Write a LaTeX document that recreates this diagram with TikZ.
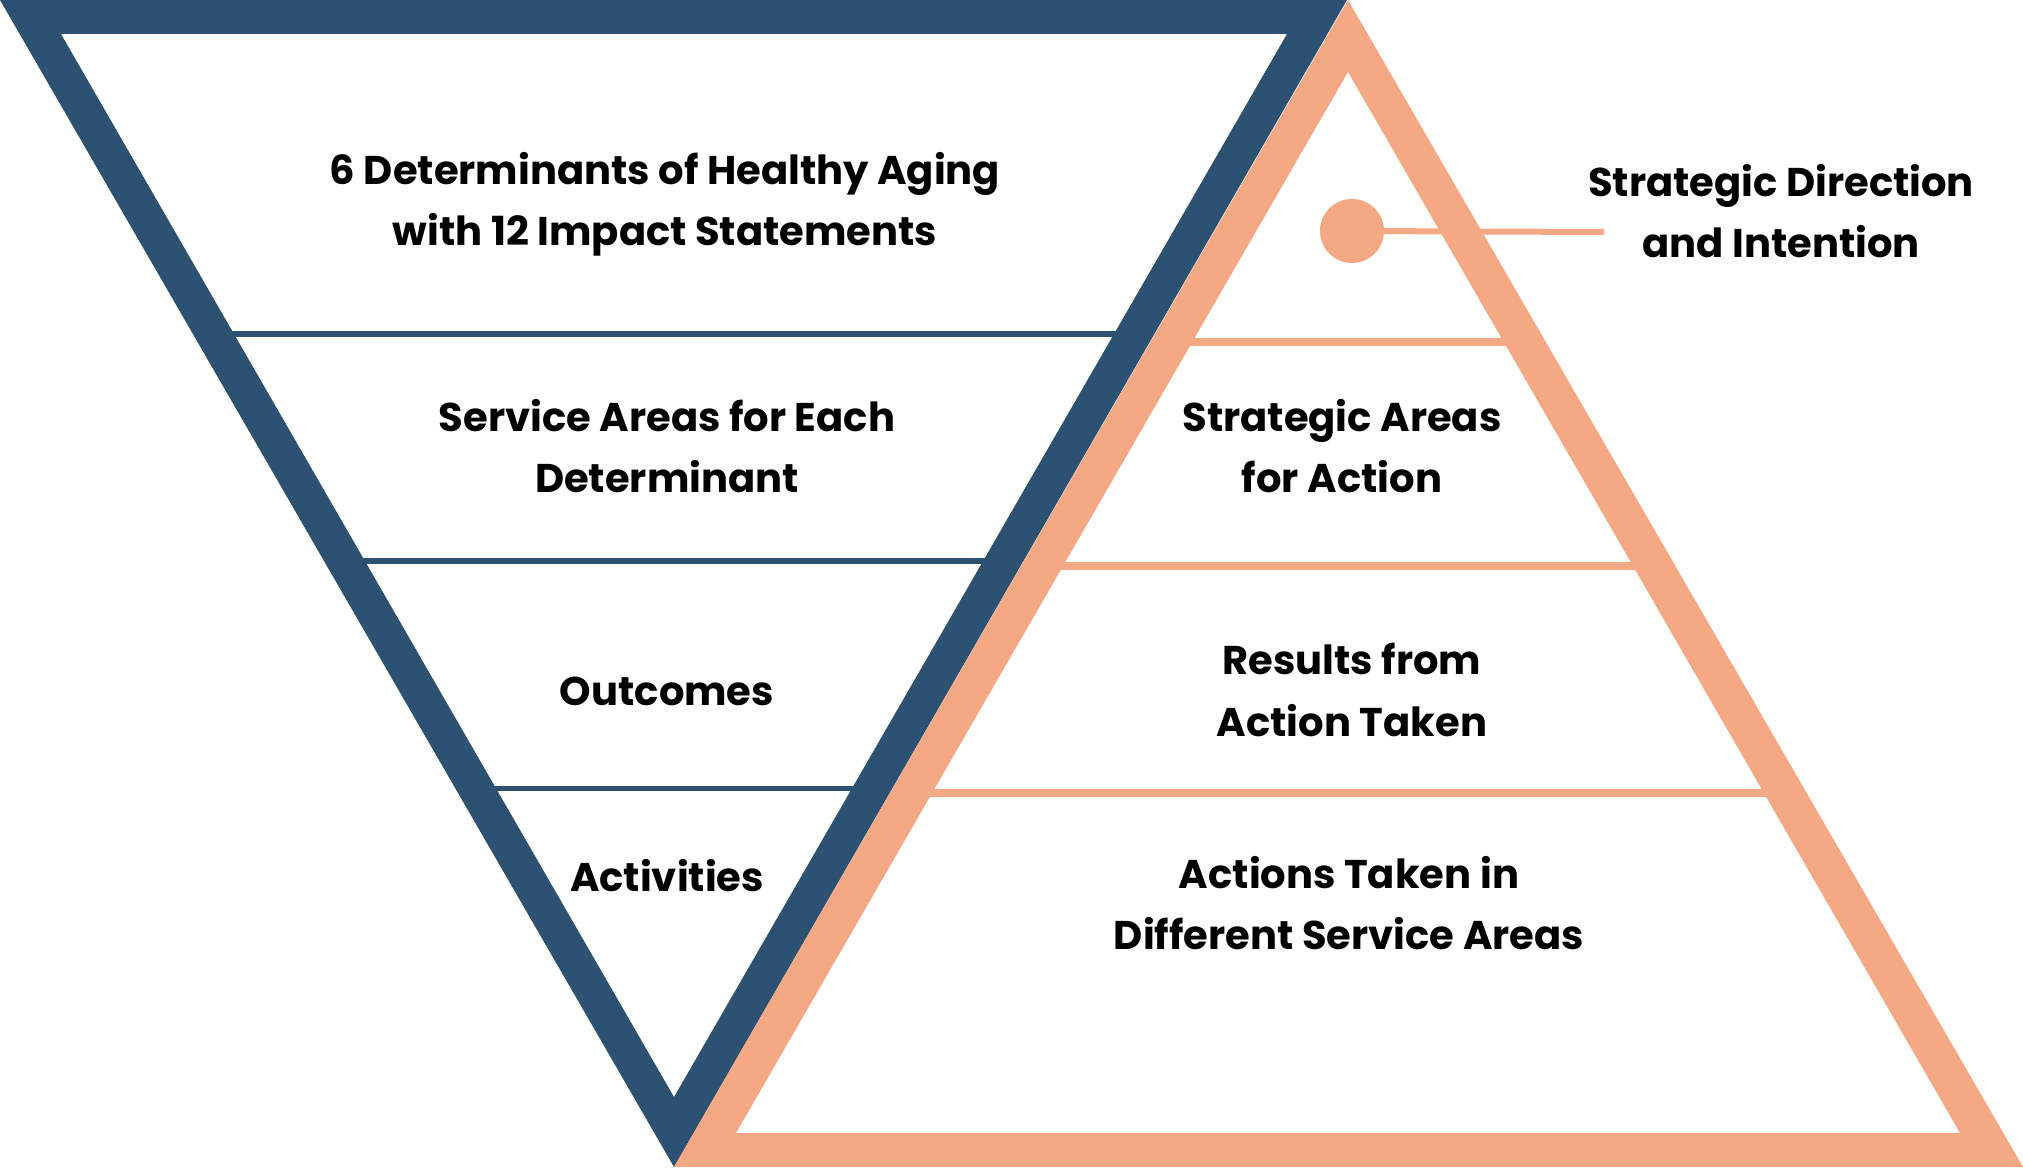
\documentclass[tikz,border=0pt]{standalone}
\usepackage{fontspec}
\setmainfont{Poppins}
\definecolor{navy}{HTML}{2C5171}
\definecolor{peach}{HTML}{F4A883}
\begin{document}
\begin{tikzpicture}[x=0.01cm,y=-0.01cm,
  lbl/.style={align=center,font=\fontsize{11.4}{17.4}\selectfont\bfseries,text=black,inner sep=0pt},
  bline/.style={draw=navy,line width=0.05cm},
  oline/.style={draw=peach,line width=0.07cm}]
\useasboundingbox (0,0) rectangle (2023,1170);
% divider lines
\draw[bline] (219,334) -- (1129,334);
\draw[bline] (350,561) -- (998,561);
\draw[bline] (481,788) -- (867,788);
\draw[oline] (1177,342) -- (1519,342);
\draw[oline] (1048,566) -- (1648,566);
\draw[oline] (917,793) -- (1779,793);
% bands
\fill[navy,even odd rule] (0,0)--(1347,0)--(674,1167)--cycle (61,34)--(1287,34)--(674,1097)--cycle;
\fill[peach,even odd rule] (674,1167)--(2023,1167)--(1348,0)--cycle (736,1133)--(1960,1133)--(1348,72)--cycle;
% dot connector
\node[circle,fill=peach,minimum size=0.64cm,inner sep=0pt] (dot) at (1352,231) {};
\coordinate (dend) at (1604,232);
\draw[peach,line width=0.06cm] (dot.center) -- (dend);
% labels
\node[lbl] (t1) at (665,204) {6 Determinants of Healthy Aging\\with 12 Impact Statements};
\node[lbl] (t2) at (667,446) {Service Areas for Each\\Determinant};
\node[lbl] (t3) at (667,691) {Outcomes};
\node[lbl] (t4) at (667,876) {Activities};
\node[lbl] (t5) at (1342,446) {Strategic Areas\\for Action};
\node[lbl] (t6) at (1352,690) {Results from\\Action Taken};
\node[lbl] (t7) at (1349,903) {Actions Taken in\\Different Service Areas};
\node[lbl] (t8) at (1781,211) {Strategic Direction\\and Intention};
\end{tikzpicture}
\end{document}
